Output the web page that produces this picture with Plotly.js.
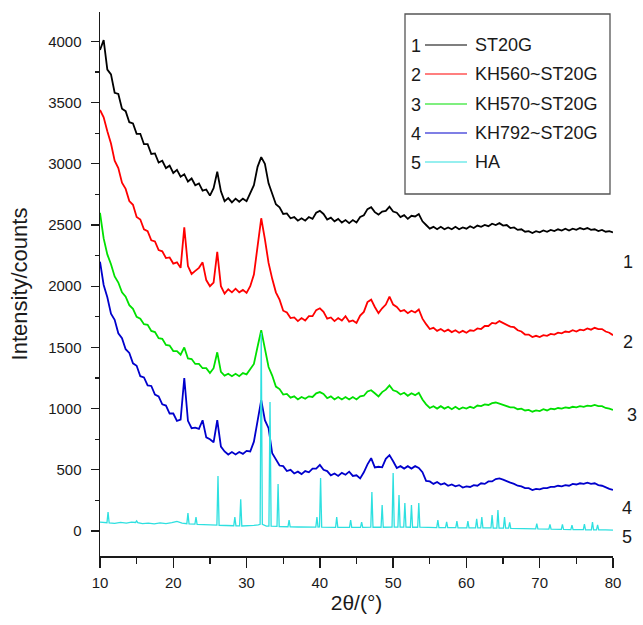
<!DOCTYPE html>
<html><head><meta charset="utf-8">
<script src="https://cdn.plot.ly/plotly-3.0.1.min.js"></script>
<style>html,body{margin:0;padding:0;background:#fff}#chart{width:643px;height:625px}</style>
</head><body><div id="chart"></div>
<script>
// 2θ sampling positions (degrees)
const theta = [
10,10.5,11,11.5,12,12.5,13,13.5,14,14.5,
15,15.5,16,16.5,17,17.5,18,18.5,19,19.5,
20,20.5,21,21.5,22,22.5,23,23.5,24,24.5,
25,25.5,26,26.5,27,27.5,28,28.5,29,29.5,
30,30.5,31,31.5,32,32.5,33,33.5,34,34.5,
35,35.5,36,36.5,37,37.5,38,38.5,39,39.5,
40,40.5,41,41.5,42,42.5,43,43.5,44,44.5,
45,45.5,46,46.5,47,47.5,48,48.5,49,49.5,
50,50.5,51,51.5,52,52.5,53,53.5,54,54.5,
55,55.5,56,56.5,57,57.5,58,58.5,59,59.5,
60,60.5,61,61.5,62,62.5,63,63.5,64,64.5,
65,65.5,66,66.5,67,67.5,68,68.5,69,69.5,
70,70.5,71,71.5,72,72.5,73,73.5,74,74.5,
75,75.5,76,76.5,77,77.5,78,78.5,79,79.5,
80];

const st20g = [
3930,4010,3770,3730,3580,3570,3450,3430,3340,3330,
3245,3245,3160,3160,3080,3085,3010,3025,2965,2985,
2925,2950,2895,2915,2855,2880,2825,2840,2780,2790,
2740,2800,2935,2775,2695,2720,2685,2715,2690,2715,
2695,2755,2825,2975,3055,3000,2840,2755,2670,2645,
2590,2595,2555,2565,2535,2555,2535,2565,2550,2600,
2615,2590,2545,2560,2530,2550,2520,2540,2515,2540,
2520,2565,2580,2630,2645,2605,2585,2610,2615,2650,
2610,2600,2565,2580,2550,2575,2570,2590,2530,2500,
2470,2485,2465,2485,2465,2480,2465,2485,2465,2480,
2470,2490,2475,2495,2485,2500,2490,2510,2500,2515,
2495,2500,2475,2480,2460,2465,2445,2450,2435,2450,
2440,2455,2445,2460,2450,2465,2455,2470,2455,2470,
2460,2475,2465,2475,2460,2465,2450,2460,2445,2450,
2440];

const kh560 = [
3440,3380,3265,3165,3025,2965,2845,2795,2695,2665,
2565,2545,2465,2450,2375,2365,2295,2285,2230,2235,
2185,2195,2150,2480,2165,2100,2125,2150,2195,2050,
2000,2030,2280,2000,1940,1975,1950,1980,1950,1970,
1945,2000,2095,2340,2555,2385,2190,2060,1950,1890,
1800,1785,1740,1745,1715,1740,1720,1755,1755,1805,
1820,1790,1735,1745,1715,1740,1720,1755,1710,1720,
1700,1760,1790,1870,1890,1830,1780,1820,1850,1915,
1850,1830,1795,1805,1780,1800,1785,1810,1735,1690,
1650,1660,1635,1650,1630,1645,1625,1640,1620,1635,
1620,1640,1635,1655,1650,1675,1675,1700,1695,1715,
1700,1690,1670,1665,1640,1630,1605,1605,1585,1595,
1585,1600,1595,1610,1605,1620,1615,1630,1625,1640,
1630,1645,1640,1655,1645,1660,1650,1650,1630,1620,
1600];

const kh570 = [
2600,2390,2260,2180,2080,2030,1950,1915,1845,1815,
1750,1735,1690,1685,1635,1625,1575,1570,1520,1515,
1470,1470,1440,1500,1410,1405,1365,1365,1330,1330,
1290,1330,1460,1300,1270,1285,1265,1285,1265,1290,
1280,1320,1365,1505,1640,1490,1340,1270,1180,1160,
1115,1120,1090,1100,1075,1095,1080,1100,1095,1125,
1135,1120,1085,1100,1075,1095,1075,1095,1075,1095,
1075,1100,1105,1140,1150,1125,1100,1135,1155,1190,
1150,1140,1115,1130,1105,1125,1110,1130,1075,1035,
1005,1020,1000,1020,1000,1015,995,1015,995,1010,
1000,1015,1005,1025,1020,1035,1030,1045,1050,1040,
1030,1025,1010,1010,995,1000,985,990,975,985,
980,995,985,1000,995,1005,1000,1010,1005,1015,
1010,1020,1015,1025,1020,1030,1020,1020,1005,1000,
990];

const kh792 = [
2200,2010,1910,1775,1725,1615,1575,1485,1455,1370,
1350,1265,1255,1190,1185,1115,1100,1035,1025,960,
960,900,910,1250,900,840,845,835,905,765,
750,725,905,690,650,625,645,625,645,630,
655,650,730,895,1070,905,840,635,590,535,
530,490,500,470,485,465,490,480,510,510,
540,500,490,455,470,450,475,460,485,450,
455,430,480,545,595,520,525,520,590,620,
570,515,530,510,530,510,530,515,480,410,
405,385,400,380,390,370,380,365,375,355,
365,360,375,370,390,385,405,405,425,430,
420,405,395,385,370,365,350,350,335,345,
340,350,350,360,360,370,365,375,370,385,
380,390,385,395,385,390,375,370,355,345,
335];

// HA reference pattern: [2θ, intensity]
const haPoints = [
[10.0,72],[10.6,66],[10.95,68],[11.1,155],[11.25,66],[12.0,62],[12.8,70],[13.6,64],[14.3,72],
[14.85,70],[15.0,82],[15.15,68],[15.8,60],[16.6,65],[17.4,58],[18.2,66],[19.0,60],[19.8,68],
[20.5,78],[21.2,64],[21.85,60],[22.0,147],[22.15,58],[22.95,56],[23.1,114],[23.25,55],[24.2,52],
[25.2,50],[25.95,48],[26.1,449],[26.25,47],[27.2,45],[28.25,43],[28.4,114],[28.55,42],
[29.05,42],[29.2,260],[29.35,41],[30.2,42],[31.0,46],[31.6,50],[31.85,55],[32.0,1620],[32.15,55],
[32.7,40],[33.05,40],[33.2,1053],[33.35,40],[34.15,38],[34.3,385],[34.45,37],[35.2,36],
[35.65,35],[35.8,90],[35.95,34],[37.0,33],[38.4,32],[39.45,32],[39.6,114],[39.75,32],
[39.95,33],[40.1,433],[40.25,32],[41.3,31],[42.15,30],[42.3,114],[42.45,30],[43.3,30],
[44.05,30],[44.2,90],[44.35,30],[45.55,30],[45.7,73],[45.85,30],[46.95,31],[47.1,318],[47.25,31],
[48.35,31],[48.5,212],[48.65,31],[49.85,32],[50.0,474],[50.15,32],[50.65,32],[50.8,294],[50.95,32],
[51.45,32],[51.6,229],[51.75,32],[52.35,31],[52.5,212],[52.65,31],[53.35,31],[53.5,229],[53.65,31],
[54.8,30],[55.95,28],[56.1,90],[56.25,28],[57.15,28],[57.3,75],[57.45,27],[58.55,27],[58.7,80],
[58.85,26],[60.05,26],[60.2,82],[60.35,26],[61.25,26],[61.4,100],[61.55,25],[61.95,25],[62.1,114],
[62.25,25],[63.35,25],[63.5,130],[63.65,24],[64.15,24],[64.3,171],[64.45,24],[65.05,24],[65.2,114],
[65.35,23],[65.75,23],[65.9,70],[66.05,22],[67.8,20],[69.45,18],[69.6,60],[69.75,18],[71.25,16],
[71.4,55],[71.55,15],[72.95,14],[73.1,55],[73.25,13],[74.25,12],[74.4,49],[74.55,12],[75.95,11],
[76.1,57],[76.25,10],[77.05,10],[77.2,73],[77.35,10],[77.75,10],[77.9,50],[78.05,9],[79.0,9],[80.0,8]
];

const seriesNames = ['ST20G','KH560~ST20G','KH570~ST20G','KH792~ST20G','HA'];
const seriesNumbers = ['1','2','3','4','5'];
const xTickVals = [10,20,30,40,50,60,70,80];
const yTickVals = [0,500,1000,1500,2000,2500,3000,3500,4000];

const colors = ['#000000','#ff0000','#00e000','#0000cc','#2ee0e0'];
const FONT = 'Liberation Sans, Arial, Helvetica, sans-serif';
const ink = '#1a1a1a';

const seriesY = [st20g, kh560, kh570, kh792];
const traces = seriesY.map((ys, i) => ({
  type: 'scatter', mode: 'lines', x: theta, y: ys, name: seriesNames[i],
  line: {color: colors[i], width: 1.8}, hoverinfo: 'skip'
}));
traces.push({
  type: 'scatter', mode: 'lines', name: seriesNames[4],
  x: haPoints.map(p => p[0]), y: haPoints.map(p => p[1]),
  line: {color: colors[4], width: 1.3}, hoverinfo: 'skip'
});

// pixel -> paper helpers for legend placement
const L = 100, R = 613, T = 12, B = 556;
const px = x => (x - L) / (R - L);
const py = y => (B - y) / (B - T);

const shapes = [{
  type: 'rect', xref: 'paper', yref: 'paper',
  x0: px(405), x1: px(610), y0: py(194), y1: py(14),
  line: {color: '#555', width: 1.3}, fillcolor: 'rgba(255,255,255,0)'
}];
const annotations = [];
const rowY = [45, 74, 104, 133, 162];
seriesNames.forEach((n, i) => {
  shapes.push({type: 'line', xref: 'paper', yref: 'paper',
    x0: px(425), x1: px(467), y0: py(rowY[i]), y1: py(rowY[i]),
    line: {color: colors[i], width: 1.2}});
  annotations.push({xref: 'paper', yref: 'paper', x: px(416), y: py(rowY[i] + 1),
    text: seriesNumbers[i], showarrow: false, xanchor: 'center', yanchor: 'middle',
    font: {family: FONT, size: 18, color: ink}});
  annotations.push({xref: 'paper', yref: 'paper', x: px(473), y: py(rowY[i]),
    text: n, showarrow: false, xanchor: 'left', yanchor: 'middle',
    font: {family: FONT, size: 18, color: ink}});
});
// curve number labels at right
const endLabelPos = [[628, 262], [628, 342], [632, 415], [627, 508], [627, 537]];
seriesNumbers.forEach((t, i) => {
  annotations.push({xref: 'paper', yref: 'paper', x: px(endLabelPos[i][0]), y: py(endLabelPos[i][1]),
    text: t, showarrow: false, xanchor: 'center', yanchor: 'middle',
    font: {family: FONT, size: 18, color: ink}});
});

const layout = {
  width: 643, height: 625,
  margin: {l: L, r: 643 - R, t: T, b: 625 - B},
  paper_bgcolor: '#fff', plot_bgcolor: '#fff',
  showlegend: false,
  font: {family: FONT, color: ink},
  xaxis: {
    range: [10, 80], tickmode: 'array', tickvals: xTickVals,
    ticks: 'outside', ticklen: 10, tickwidth: 1.3, tickcolor: ink,
    showline: true, linecolor: ink, linewidth: 1.5, showgrid: false, zeroline: false,
    tickfont: {family: FONT, size: 15, color: ink}, ticklabelstandoff: 2,
    minor: {tickmode: 'linear', tick0: 10, dtick: 5, ticks: 'outside', ticklen: 6, tickwidth: 1.3, tickcolor: ink, showgrid: false},
    title: {text: '2θ/(°)', font: {family: FONT, size: 21, color: ink}, standoff: 6}
  },
  yaxis: {
    range: [-204, 4240], tickmode: 'array', tickvals: yTickVals,
    ticks: 'outside', ticklen: 8, tickwidth: 1.3, tickcolor: ink,
    showline: true, linecolor: ink, linewidth: 1.5, showgrid: false, zeroline: false,
    tickfont: {family: FONT, size: 15, color: ink}, ticklabelstandoff: 6,
    minor: {tickmode: 'linear', tick0: 0, dtick: 250, ticks: 'outside', ticklen: 4, tickwidth: 1.3, tickcolor: ink, showgrid: false},
    title: {text: 'Intensity/counts', font: {family: FONT, size: 22, color: ink}, standoff: 14}
  },
  shapes: shapes,
  annotations: annotations
};

Plotly.newPlot('chart', traces, layout, {staticPlot: true, displayModeBar: false});
</script>
</body></html>
